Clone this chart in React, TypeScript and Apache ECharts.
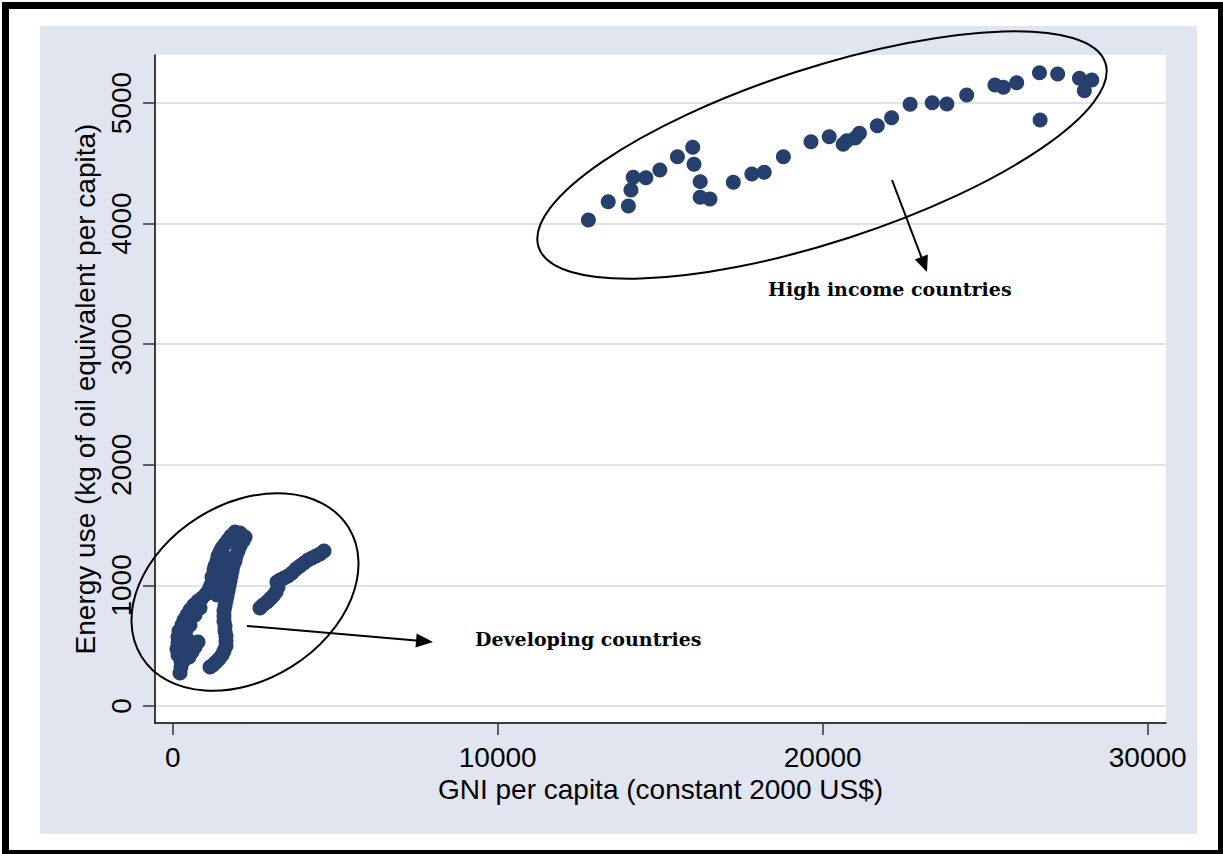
import React, { useEffect, useRef } from "react";
import * as echarts from "echarts";

const xTickValues = [0, 10000, 20000, 30000];
const yTickValues = [0, 1000, 2000, 3000, 4000, 5000];

const xTitle = "GNI per capita (constant 2000 US$)";
const yTitle = "Energy use (kg of oil equivalent per capita)";
const highLabel = "High income countries";
const devLabel = "Developing countries";

// High income countries: GNI per capita / energy use
const highGni = [
  12790, 13400, 14020, 14100, 14170, 14560, 14990, 15530, 16000, 16040,
  16230, 16230, 16530, 17250, 17820, 18200, 18790, 19640, 20200, 20630,
  20740, 21130, 21000, 21680, 22120, 22690, 23370, 23820, 24430, 25300,
  25560, 25970, 26670, 27230, 26690, 27900, 28280, 28050,
];
const highEnergy = [
  4030, 4182, 4146, 4279, 4384, 4381, 4445, 4555, 4633, 4492,
  4348, 4218, 4204, 4342, 4411, 4425, 4555, 4679, 4721, 4658,
  4687, 4749, 4710, 4812, 4878, 4989, 5003, 4992, 5066, 5149,
  5130, 5168, 5251, 5241, 4859, 5205, 5191, 5102,
];

// Developing countries
const devGni = [
  // left leg, rising
  225, 255, 255, 163, 132, 163, 163, 194, 286, 348, 440, 532, 655, 778, 902,
  1025, 1117, 1178, 1240, 1271, 1271, 1302, 1363, 1394, 1455, 1517, 1609,
  1702, 1794, 1917, 2071, 2225,
  // right leg, falling
  2163, 2071, 2009, 1948, 1917, 1855, 1825, 1794, 1763, 1732, 1702, 1671,
  1640, 1609, 1578, 1578, 1578, 1609, 1609, 1640, 1640, 1640, 1578, 1517,
  1425, 1332, 1240, 1148,
  // knobs and short prong
  1148, 1209, 778, 686, 594, 502, 380, 470,
  // between the legs, upper part
  1578, 1548, 1486, 1425, 1363,
  // lower left leg, wider part
  409, 471, 378, 348, 532, 686, 840,
  // right chain
  2686, 2779, 2902, 2994, 3086, 3179, 3240, 3209, 3302, 3425, 3548, 3671,
  3794, 3917, 4040, 4163, 4286, 4409, 4532, 4655,
];
const devEnergy = [
  274, 323, 373, 423, 473, 522, 572, 622, 672, 713, 755, 796, 837, 871, 896,
  929, 962, 1003, 1045, 1086, 1128, 1161, 1202, 1244, 1277, 1310, 1343,
  1376, 1410, 1443, 1435, 1401,
  1368, 1327, 1285, 1244, 1202, 1161, 1119, 1078, 1037, 995, 954, 912,
  871, 829, 788, 746, 705, 663, 622, 580, 539, 498, 456, 423,
  390, 365, 340, 323,
  978, 1070, 531, 489, 448, 406, 600, 700,
  1244, 1169, 1086, 1003, 920,
  630, 547, 464, 381, 672, 755, 813,
  813, 837, 862, 887, 912, 945, 987, 1028, 1045, 1061, 1078, 1103,
  1136, 1161, 1186, 1211, 1227, 1244, 1260, 1285,
];

const DOT = "#263f6c";
const PANEL = "#e0e5ef";
const GRIDLINE = "#dde2ee";
const SANS = "'Liberation Sans', Arial, sans-serif";
const SERIF = "'DejaVu Serif', 'Liberation Serif', serif";

function arrowHead(tipX: number, tipY: number, fromX: number, fromY: number, len: number, half: number) {
  const dx = tipX - fromX;
  const dy = tipY - fromY;
  const l = Math.sqrt(dx * dx + dy * dy);
  const ux = dx / l;
  const uy = dy / l;
  const bx = tipX - ux * len;
  const by = tipY - uy * len;
  const px = -uy * half;
  const py = ux * half;
  return {
    base: [bx, by],
    points: [
      [tipX, tipY],
      [bx + px, by + py],
      [bx - px, by - py],
    ],
  };
}

export default function App() {
  const ref = useRef<HTMLDivElement>(null);

  useEffect(() => {
    if (!ref.current) return;
    const chart = echarts.init(ref.current, null, { renderer: "svg" });

    const hiArrow = arrowHead(927, 272, 892, 180, 16, 7);
    const devArrow = arrowHead(433, 642, 247, 626, 17, 7);

    const option: any = {
      animation: false,
      backgroundColor: "#ffffff",
      grid: {
        left: 155,
        top: 55,
        width: 1011,
        height: 668,
        show: true,
        backgroundColor: "#ffffff",
        borderWidth: 0,
      },
      xAxis: {
        type: "value",
        min: -545,
        max: 30563,
        name: xTitle,
        nameLocation: "middle",
        nameGap: 45,
        nameTextStyle: { fontFamily: SANS, fontSize: 28, color: "#000" },
        axisLine: { show: true, onZero: false, lineStyle: { color: "#000", width: 1.5 } },
        axisTick: {
          show: true,
          length: 12,
          customValues: xTickValues,
          lineStyle: { color: "#333", width: 1.5 },
        },
        axisLabel: {
          customValues: xTickValues,
          margin: 20,
          fontFamily: SANS,
          fontSize: 28,
          color: "#000",
          formatter: (v: number) => String(v),
        },
        splitLine: { show: false },
      },
      yAxis: {
        type: "value",
        min: -141,
        max: 5398,
        name: yTitle,
        nameLocation: "middle",
        nameGap: 50,
        nameTextStyle: { fontFamily: SANS, fontSize: 28, color: "#000" },
        axisLine: { show: true, onZero: false, lineStyle: { color: "#000", width: 1.5 } },
        axisTick: {
          show: true,
          length: 12,
          customValues: yTickValues,
          lineStyle: { color: "#333", width: 1.5 },
        },
        axisLabel: {
          customValues: yTickValues,
          rotate: 90,
          margin: 20,
          fontFamily: SANS,
          fontSize: 28,
          color: "#000",
          formatter: (v: number) => String(v),
        },
        splitLine: { show: true, lineStyle: { color: GRIDLINE, width: 2 } },
      },
      series: [
        {
          type: "scatter",
          name: "Developing",
          symbol: "circle",
          symbolSize: 15,
          itemStyle: { color: DOT, opacity: 1 },
          data: devGni.map((g, i) => [g, devEnergy[i]]),
        },
        {
          type: "scatter",
          name: "High income",
          symbol: "circle",
          symbolSize: 15,
          itemStyle: { color: DOT, opacity: 1 },
          data: highGni.map((g, i) => [g, highEnergy[i]]),
        },
      ],
      graphic: [
        {
          type: "rect",
          z: -10,
          silent: true,
          shape: { x: 40, y: 26, width: 1157, height: 808 },
          style: { fill: PANEL },
        },
        {
          type: "rect",
          z: 100,
          silent: true,
          shape: { x: 5.5, y: 5.5, width: 1216, height: 848 },
          style: { fill: "none", stroke: "#000", lineWidth: 7 },
        },
        {
          type: "ellipse",
          z: 100,
          silent: true,
          x: 822,
          y: 155,
          rotation: (18 * Math.PI) / 180,
          shape: { cx: 0, cy: 0, rx: 298, ry: 87 },
          style: { fill: "none", stroke: "#000", lineWidth: 2 },
        },
        {
          type: "ellipse",
          z: 100,
          silent: true,
          x: 245,
          y: 592,
          rotation: (32 * Math.PI) / 180,
          shape: { cx: 0, cy: 0, rx: 122, ry: 88 },
          style: { fill: "none", stroke: "#000", lineWidth: 2 },
        },
        {
          type: "line",
          z: 100,
          silent: true,
          shape: { x1: 892, y1: 180, x2: hiArrow.base[0], y2: hiArrow.base[1] },
          style: { stroke: "#000", lineWidth: 2 },
        },
        {
          type: "polygon",
          z: 100,
          silent: true,
          shape: { points: hiArrow.points },
          style: { fill: "#000" },
        },
        {
          type: "line",
          z: 100,
          silent: true,
          shape: { x1: 247, y1: 626, x2: devArrow.base[0], y2: devArrow.base[1] },
          style: { stroke: "#000", lineWidth: 2 },
        },
        {
          type: "polygon",
          z: 100,
          silent: true,
          shape: { points: devArrow.points },
          style: { fill: "#000" },
        },
        {
          type: "text",
          z: 100,
          silent: true,
          x: 768,
          y: 289,
          style: {
            text: highLabel,
            fontFamily: SERIF,
            fontWeight: "bold",
            fontSize: 19,
            fill: "#000",
            textVerticalAlign: "middle",
            textAlign: "left",
          },
        },
        {
          type: "text",
          z: 100,
          silent: true,
          x: 475,
          y: 639,
          style: {
            text: devLabel,
            fontFamily: SERIF,
            fontWeight: "bold",
            fontSize: 19,
            fill: "#000",
            textVerticalAlign: "middle",
            textAlign: "left",
          },
        },
      ],
    };

    chart.setOption(option);
    return () => chart.dispose();
  }, []);

  return (
    <div
      ref={ref}
      style={{ position: "fixed", left: 0, top: 0, width: 1223, height: 854, background: "#fff" }}
    />
  );
}
